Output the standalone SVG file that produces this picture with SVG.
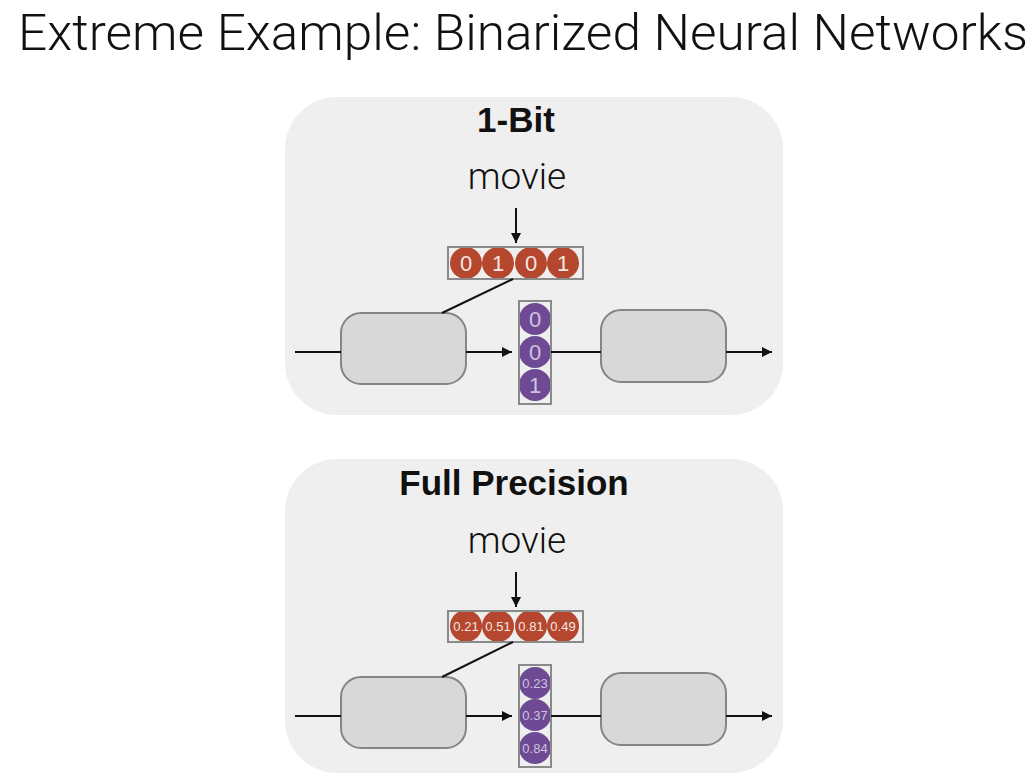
<svg xmlns="http://www.w3.org/2000/svg" width="1036" height="776" viewBox="0 0 1036 776">
  <defs>
    <marker id="arrow" viewBox="0 0 10 10" refX="10" refY="5" markerWidth="10" markerHeight="10" markerUnits="userSpaceOnUse" orient="auto">
      <path d="M0,0 L10,5 L0,10 z" fill="#111"/>
    </marker>
    <style>
      .title { font-family: Roboto, "Liberation Sans", Arial, sans-serif; font-weight: 300; font-size: 50px; fill: #111; }
      .head { font-family: "Liberation Sans", Arial, sans-serif; font-size: 35px; font-weight: bold; fill: #111; text-anchor: middle; }
      .word { font-family: Roboto, "Liberation Sans", Arial, sans-serif; font-weight: 300; font-size: 37px; fill: #111; text-anchor: middle; }
      .panel { fill: #efefef; }
      .cell { fill: #d8d8d8; stroke: #858585; stroke-width: 2; }
      .frame { fill: none; stroke: #8a8a8a; stroke-width: 2; }
      .orange { fill: #b4472d; }
      .purple { fill: #6d4a93; }
      .digit { font-family: "Liberation Sans", Arial, sans-serif; font-size: 22px; text-anchor: middle; }
      .num { font-family: "Liberation Sans", Arial, sans-serif; font-size: 13px; text-anchor: middle; }
      .ow { fill: #f4e6e2; }
      .pw { fill: #cfc3dd; }
      .wire { stroke: #111; stroke-width: 2; fill: none; }
    </style>
  </defs>
  <rect width="1036" height="776" fill="#ffffff"/>

  <text class="title" x="18" y="50" textLength="1010" lengthAdjust="spacingAndGlyphs">Extreme Example: Binarized Neural Networks</text>

  <!-- 1-bit panel -->
  <g id="panel-1bit">
    <rect class="panel" x="285" y="97" width="498" height="318" rx="52"/>
    <text class="head" x="516" y="132">1-Bit</text>
    <text class="word" x="517" y="189">movie</text>
  </g>
  <g id="rnn-left-1">
    <rect class="cell" x="341" y="313" width="125" height="71" rx="20"/>
  </g>
  <g id="rnn-right-1">
    <rect class="cell" x="601" y="310" width="125" height="72" rx="20"/>
  </g>
  <g id="embed-1">
    <circle class="orange" cx="466" cy="263" r="16"/>
    <circle class="orange" cx="498" cy="263" r="16"/>
    <circle class="orange" cx="531" cy="263" r="16"/>
    <circle class="orange" cx="563" cy="263" r="16"/>
    <rect class="frame" x="448" y="247" width="135" height="32"/>
    <text class="digit ow" x="466" y="271">0</text>
    <text class="digit ow" x="498" y="271">1</text>
    <text class="digit ow" x="531" y="271">0</text>
    <text class="digit ow" x="563" y="271">1</text>
  </g>
  <g id="hidden-1">
    <circle class="purple" cx="535" cy="319" r="16"/>
    <circle class="purple" cx="535" cy="352" r="16"/>
    <circle class="purple" cx="535" cy="385" r="16"/>
    <rect class="frame" x="519" y="301" width="32" height="103"/>
    <text class="digit pw" x="535" y="327">0</text>
    <text class="digit pw" x="535" y="360">0</text>
    <text class="digit pw" x="535" y="393">1</text>
  </g>

  <!-- full precision panel -->
  <g id="panel-full">
    <rect class="panel" x="285" y="459" width="498" height="314" rx="52"/>
    <text class="head" x="514" y="495">Full Precision</text>
    <text class="word" x="517" y="553">movie</text>
  </g>
  <g id="rnn-left-2">
    <rect class="cell" x="341" y="677" width="125" height="71" rx="20"/>
  </g>
  <g id="rnn-right-2">
    <rect class="cell" x="601" y="673" width="125" height="72" rx="20"/>
  </g>
  <g id="embed-2">
    <circle class="orange" cx="466" cy="626" r="16"/>
    <circle class="orange" cx="498" cy="626" r="16"/>
    <circle class="orange" cx="531" cy="626" r="16"/>
    <circle class="orange" cx="563" cy="626" r="16"/>
    <rect class="frame" x="448" y="611" width="135" height="31"/>
    <text class="num ow" x="466" y="631">0.21</text>
    <text class="num ow" x="498" y="631">0.51</text>
    <text class="num ow" x="531" y="631">0.81</text>
    <text class="num ow" x="563" y="631">0.49</text>
  </g>
  <g id="hidden-2">
    <circle class="purple" cx="535" cy="683" r="16"/>
    <circle class="purple" cx="535" cy="715" r="16"/>
    <circle class="purple" cx="535" cy="748" r="16"/>
    <rect class="frame" x="519" y="665" width="32" height="102"/>
    <text class="num pw" x="535" y="688">0.23</text>
    <text class="num pw" x="535" y="720">0.37</text>
    <text class="num pw" x="535" y="753">0.84</text>
  </g>

  <g id="connectors">
    <!-- 1-bit -->
    <line class="wire" x1="516" y1="208" x2="516" y2="243" marker-end="url(#arrow)"/>
    <line class="wire" x1="513" y1="279" x2="442" y2="313"/>
    <line class="wire" x1="295" y1="352" x2="341" y2="352"/>
    <line class="wire" x1="466" y1="352" x2="512" y2="352" marker-end="url(#arrow)"/>
    <line class="wire" x1="551" y1="352" x2="601" y2="352"/>
    <line class="wire" x1="726" y1="352" x2="772" y2="352" marker-end="url(#arrow)"/>
    <!-- full precision -->
    <line class="wire" x1="516" y1="572" x2="516" y2="607" marker-end="url(#arrow)"/>
    <line class="wire" x1="513" y1="642" x2="442" y2="677"/>
    <line class="wire" x1="295" y1="716" x2="341" y2="716"/>
    <line class="wire" x1="466" y1="716" x2="512" y2="716" marker-end="url(#arrow)"/>
    <line class="wire" x1="551" y1="716" x2="601" y2="716"/>
    <line class="wire" x1="726" y1="716" x2="772" y2="716" marker-end="url(#arrow)"/>
  </g>
</svg>
